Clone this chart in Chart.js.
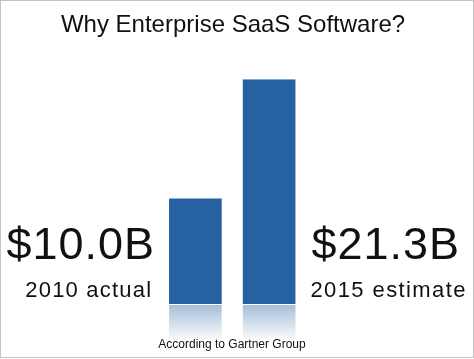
<!DOCTYPE html>
<html>
<head>
<meta charset="utf-8">
<title>Why Enterprise SaaS Software?</title>
<script src="https://cdn.jsdelivr.net/npm/chart.js@4.4.1/dist/chart.umd.min.js"></script>
<style>
  html, body { margin: 0; padding: 0; background: #fff; }
  #wrap { position: relative; width: 474px; height: 359px; }
</style>
</head>
<body>
<div id="wrap"><canvas id="saasChart" width="474" height="359"></canvas></div>
<script>
// chart data
const categories = ['2010 actual', '2015 estimate'];
const revenue = [10.0, 21.3];          // $ billions
const valueLabels = ['$10.0B', '$21.3B'];
const titleText = 'Why Enterprise SaaS Software?';
const sourceText = 'According to Gartner Group';

const barColor = '#2662a1';
const fontFamily = '"Liberation Sans", Helvetica, Arial, sans-serif';

// text with letter spacing, aligned by its visible width
function spacedText(ctx, text, x, y, align, spacing) {
    ctx.letterSpacing = spacing + 'px';
    const w = ctx.measureText(text).width - spacing;
    ctx.textAlign = 'left';
    const left = align === 'right' ? x - w : x;
    ctx.fillText(text, left, y);
    ctx.letterSpacing = '0px';
}

// draws title, side labels, reflection and frame
const slidePlugin = {
    id: 'slide',
    beforeDatasetsDraw(chart) {
        const ctx = chart.ctx;
        const meta = chart.getDatasetMeta(0);
        const base = chart.scales.y.getPixelForValue(0);
        ctx.save();
        meta.data.forEach(bar => {
            const w = bar.width;
            const grad = ctx.createLinearGradient(0, base, 0, base + 38);
            grad.addColorStop(0, 'rgba(38,98,161,0.42)');
            grad.addColorStop(1, 'rgba(38,98,161,0)');
            ctx.fillStyle = grad;
            ctx.fillRect(bar.x - w / 2, base + 1, w, 38);
        });
        ctx.restore();
    },
    afterDraw(chart) {
        const ctx = chart.ctx;
        const meta = chart.getDatasetMeta(0);
        const b1 = meta.data[0], b2 = meta.data[1];
        const leftEdge = b1.x - b1.width / 2;
        const rightEdge = b2.x + b2.width / 2;
        ctx.save();
        ctx.fillStyle = '#111';
        ctx.textBaseline = 'alphabetic';

        ctx.textAlign = 'center';
        ctx.font = '24px ' + fontFamily;
        ctx.fillText(titleText, 233, 32);

        // left: first category
        ctx.font = '45px ' + fontFamily;
        spacedText(ctx, valueLabels[0], leftEdge - 15, 259, 'right', 1);
        ctx.font = '22px ' + fontFamily;
        spacedText(ctx, categories[0], leftEdge - 18, 297, 'right', 1.2);

        // right: second category
        ctx.font = '45px ' + fontFamily;
        spacedText(ctx, valueLabels[1], rightEdge + 16, 259, 'left', 1);
        ctx.font = '22px ' + fontFamily;
        spacedText(ctx, categories[1], rightEdge + 15, 297, 'left', 1.4);

        ctx.textAlign = 'center';
        ctx.font = '12px ' + fontFamily;
        ctx.fillText(sourceText, 232, 348);

        // frame
        ctx.strokeStyle = '#c4c4c4';
        ctx.lineWidth = 1;
        ctx.strokeRect(0.5, 0.5, 473, 357);
        ctx.restore();
    }
};

new Chart(document.getElementById('saasChart'), {
    type: 'bar',
    data: {
        labels: categories,
        datasets: [{
            data: revenue,
            backgroundColor: barColor,
            borderWidth: 0,
            barPercentage: 0.714,
            categoryPercentage: 1
        }]
    },
    options: {
        responsive: false,
        animation: false,
        events: [],
        layout: { padding: { left: 158.5, right: 168, top: 79.3, bottom: 55 } },
        scales: {
            x: { display: false },
            y: { display: false, min: 0, max: 21.3 }
        },
        plugins: {
            legend: { display: false },
            tooltip: { enabled: false }
        }
    },
    plugins: [slidePlugin]
});
</script>
</body>
</html>
